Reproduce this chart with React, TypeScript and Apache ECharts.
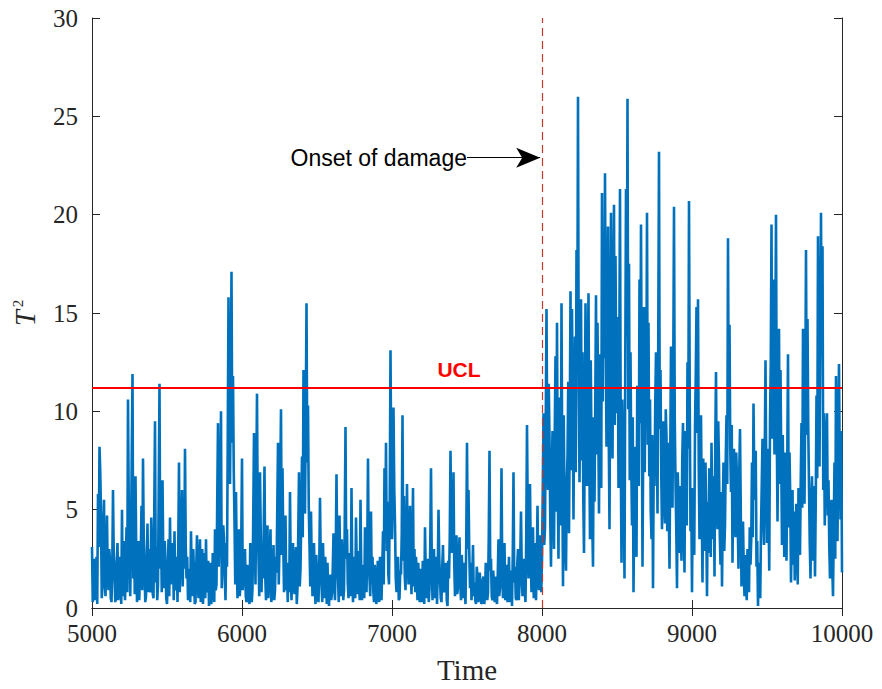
import React, { useEffect, useRef } from "react";
import * as echarts from "echarts";

// T² monitoring statistic, sampled every 5 time units from 5000 to 10000.
// "On" arrays hold the samples at t = 5000, 5010, ...; "Mid" arrays hold
// the samples that fall in between, at t = 5005, 5015, ...
const T_START = 5000;
const T_STEP = 5;

const t2On5000 = [
  3.1, 1.2, 0.4, 2.6, 5.8, 8.2, 4.9, 1.1, 5.5, 0.6,
  4.7, 0.9, 2.4, 0.3, 6.0, 1.8, 0.5, 3.3, 0.8, 1.5,
  5.0, 2.2, 0.4, 4.1, 10.6, 2.8, 3.5, 11.9, 4.0, 6.7,
  0.3, 3.4, 1.8, 5.2, 7.6, 2.1, 0.6, 4.3, 3.0, 0.8,
  2.9, 0.5, 9.5, 3.1, 1.2, 11.4, 4.2, 6.5, 1.0, 2.3,
  0.2, 3.5, 4.6, 1.9, 2.8, 3.9, 1.1, 0.3, 7.4, 2.5,
  6.0, 4.2, 8.1, 1.5, 0.4, 2.0, 3.9, 0.6, 1.8, 0.3,
  3.7, 0.5, 3.5, 1.4, 0.2, 2.8, 3.5, 0.9, 0.1, 2.3,
  0.7, 1.9, 4.0, 1.2, 9.4, 3.8, 10.0, 2.6, 3.5, 0.4,
  2.1, 15.8, 6.3, 17.1, 11.8, 4.4, 5.9, 0.5, 4.0, 1.3,
];
const t2Mid5000 = [
  0.3, 2.5, 1.6, 0.2, 3.1, 6.9, 0.5, 3.8, 1.4, 2.2,
  1.6, 3.0, 0.5, 1.9, 2.7, 0.3, 2.4, 0.4, 2.6, 0.2,
  0.6, 3.4, 1.9, 0.8, 5.2, 0.6, 7.8, 1.5, 0.7, 2.9,
  1.7, 0.4, 2.8, 0.9, 3.6, 0.3, 2.5, 0.8, 1.2, 4.6,
  0.7, 4.8, 1.3, 0.4, 6.2, 2.0, 0.8, 2.7, 3.4, 0.5,
  1.8, 0.6, 1.2, 3.3, 0.4, 0.9, 2.6, 3.1, 0.8, 4.0,
  1.1, 2.0, 3.2, 2.6, 1.4, 0.3, 1.5, 3.0, 0.2, 2.1,
  1.5, 2.2, 0.3, 3.0, 1.6, 0.5, 0.8, 2.4, 1.3, 0.2,
  2.8, 0.3, 0.9, 5.6, 2.1, 6.4, 1.0, 4.2, 1.6, 3.3,
  8.7, 9.6, 11.2, 8.4, 7.0, 1.2, 2.4, 2.9, 0.6, 3.4,
];

const t2On6000 = [
  7.6, 2.8, 3.0, 0.3, 1.6, 0.2, 2.5, 1.0, 8.9, 1.2,
  10.9, 2.5, 6.9, 0.8, 1.5, 7.2, 0.4, 4.2, 1.2, 4.0,
  0.6, 3.2, 0.9, 1.8, 8.4, 3.3, 10.1, 7.1, 0.8, 4.7,
  1.9, 2.3, 5.9, 0.4, 3.3, 0.7, 3.1, 1.0, 6.9, 2.0,
  7.7, 12.1, 4.8, 15.5, 10.3, 3.2, 4.9, 0.6, 3.3, 0.2,
  1.8, 0.3, 5.6, 1.2, 3.3, 0.5, 1.4, 2.3, 0.1, 1.7,
  0.8, 3.8, 0.4, 6.8, 1.5, 4.7, 0.6, 2.2, 0.9, 9.2,
  4.0, 0.5, 1.9, 6.1, 0.3, 2.6, 4.6, 0.7, 1.2, 5.5,
  0.4, 2.2, 4.1, 0.8, 7.6, 1.5, 4.9, 2.6, 0.3, 1.7,
  0.6, 1.5, 2.6, 0.4, 3.9, 7.1, 8.4, 5.4, 1.2, 13.1,
];
const t2Mid6000 = [
  0.9, 1.1, 0.6, 2.2, 0.4, 3.3, 0.3, 4.7, 3.6, 6.2,
  4.4, 0.6, 3.8, 2.9, 4.1, 1.6, 2.3, 0.5, 2.8, 0.3,
  1.9, 0.4, 2.6, 5.0, 1.2, 6.5, 2.7, 3.4, 2.5, 0.9,
  0.3, 0.8, 1.7, 2.0, 1.5, 2.4, 0.2, 3.8, 1.1, 4.5,
  3.6, 6.5, 9.8, 7.4, 5.2, 1.1, 2.2, 1.9, 1.0, 2.7,
  0.5, 2.1, 2.4, 0.3, 1.5, 2.6, 0.2, 0.7, 1.2, 0.4,
  2.0, 1.1, 2.9, 2.4, 0.3, 2.1, 3.5, 0.4, 4.3, 2.5,
  1.3, 2.8, 0.6, 1.8, 1.4, 0.5, 2.0, 2.9, 0.4, 1.9,
  1.6, 0.5, 1.9, 3.0, 2.4, 0.6, 1.2, 0.9, 2.2, 0.2,
  2.4, 0.3, 1.1, 2.0, 1.2, 3.5, 2.9, 1.8, 5.6, 6.8,
];

const t2On7000 = [
  3.5, 10.2, 4.3, 0.8, 2.6, 0.5, 1.7, 9.8, 5.7, 0.9,
  6.3, 1.2, 5.2, 0.7, 6.1, 3.0, 2.6, 0.4, 1.3, 2.0,
  0.3, 1.6, 4.1, 0.5, 2.5, 1.0, 7.1, 0.4, 3.0, 1.1,
  0.2, 5.0, 1.4, 0.3, 3.2, 0.8, 2.3, 0.1, 1.5, 8.0,
  2.8, 6.9, 0.6, 3.7, 1.1, 3.6, 0.4, 1.8, 2.3, 0.2,
  8.4, 6.0, 1.0, 0.4, 3.2, 1.3, 0.2, 1.6, 0.5, 1.2,
  0.3, 1.6, 0.6, 1.9, 0.8, 8.0, 2.5, 0.4, 1.1, 1.6,
  0.2, 3.5, 1.0, 7.1, 0.5, 3.3, 1.2, 0.3, 2.6, 0.9,
  0.1, 6.9, 2.1, 0.4, 3.0, 1.1, 4.9, 0.6, 2.5, 0.3,
  9.3, 1.5, 6.3, 0.8, 4.1, 1.8, 0.4, 5.2, 0.9, 3.7,
];
const t2Mid7000 = [
  5.9, 6.1, 1.5, 2.2, 0.4, 1.9, 3.8, 2.4, 1.6, 3.1,
  2.7, 3.3, 1.8, 2.9, 1.1, 0.8, 1.5, 2.3, 0.3, 0.6,
  2.4, 0.2, 1.7, 1.9, 0.3, 3.2, 2.5, 1.6, 0.5, 2.6,
  1.8, 2.6, 0.5, 2.1, 0.9, 1.7, 0.4, 2.4, 3.6, 3.9,
  4.1, 2.2, 2.5, 0.7, 2.4, 1.2, 2.7, 0.5, 0.9, 3.4,
  3.0, 2.9, 2.3, 1.5, 0.6, 0.4, 2.1, 0.3, 1.8, 0.2,
  1.4, 0.2, 2.3, 0.4, 3.6, 1.9, 0.6, 1.9, 0.3, 0.5,
  1.7, 0.6, 2.8, 1.8, 1.3, 0.4, 2.2, 1.4, 0.3, 1.9,
  2.6, 1.3, 0.5, 2.2, 0.4, 2.5, 1.9, 1.5, 0.8, 3.7,
  4.6, 3.1, 2.4, 2.6, 0.5, 3.3, 2.2, 1.7, 2.8, 0.8,
];

const t2On8000 = [
  2.5, 9.9, 4.1, 15.2, 6.0, 8.6, 2.1, 9.0, 3.0, 12.8,
  14.5, 2.5, 8.0, 15.5, 1.1, 5.2, 1.9, 7.7, 3.8, 16.1,
  15.2, 4.5, 13.8, 18.2, 26.0, 6.4, 15.7, 13.0, 2.8, 15.5,
  6.2, 16.0, 3.5, 8.1, 2.1, 5.4, 15.9, 14.5, 4.8, 9.1,
  21.1, 18.4, 22.1, 8.2, 19.4, 4.0, 20.1, 7.6, 20.5, 17.9,
  9.9, 6.1, 21.3, 2.3, 8.5, 1.5, 21.3, 25.9, 17.5, 13.0,
  4.2, 0.8, 8.2, 2.6, 9.4, 16.7, 19.5, 2.1, 15.3, 12.6,
  20.1, 14.5, 10.6, 3.5, 1.0, 6.2, 13.0, 4.8, 23.2, 12.1,
  4.0, 9.5, 4.3, 8.7, 8.4, 2.0, 13.3, 5.1, 20.4, 6.4,
  1.0, 5.3, 6.2, 2.4, 9.4, 1.8, 7.0, 12.5, 20.7, 3.9,
];
const t2Mid8000 = [
  5.8, 3.2, 9.4, 8.1, 11.4, 4.5, 6.7, 5.2, 8.9, 4.9,
  6.3, 10.7, 4.2, 7.1, 9.8, 3.0, 6.4, 11.5, 9.2, 7.0,
  9.6, 11.2, 6.9, 12.3, 11.0, 10.3, 7.5, 5.8, 8.7, 10.9,
  11.8, 8.4, 12.6, 4.3, 9.7, 10.2, 7.8, 9.5, 12.9, 6.1,
  10.5, 12.7, 13.4, 14.1, 8.8, 13.6, 11.9, 15.2, 9.3, 11.6,
  14.8, 12.4, 7.9, 10.6, 5.7, 12.2, 13.8, 10.1, 6.5, 7.4,
  9.7, 5.1, 4.6, 11.3, 6.2, 9.4, 10.8, 8.6, 6.9, 9.9,
  8.3, 6.7, 4.9, 8.8, 7.5, 10.4, 9.6, 13.7, 9.1, 6.8,
  7.2, 5.6, 10.1, 3.9, 5.0, 7.8, 8.5, 11.9, 9.6, 4.1,
  6.9, 2.8, 4.3, 7.6, 4.6, 9.0, 4.2, 8.1, 10.5, 5.7,
];

const t2On9000 = [
  0.8, 4.6, 9.2, 15.3, 15.7, 3.5, 9.8, 1.3, 5.0, 7.4,
  0.6, 2.8, 5.5, 8.4, 3.5, 1.6, 12.0, 4.0, 7.3, 2.2,
  1.1, 7.4, 4.2, 9.8, 18.8, 14.4, 5.9, 2.3, 8.1, 3.6,
  6.5, 2.0, 9.1, 1.1, 4.4, 0.6, 1.1, 3.0, 0.8, 2.2,
  7.4, 10.4, 5.5, 2.1, 0.1, 1.6, 4.0, 8.6, 3.2, 12.6,
  3.3, 5.2, 9.5, 19.5, 16.7, 7.8, 20.0, 4.4, 14.2, 12.1,
  3.2, 5.8, 7.9, 2.4, 12.9, 7.9, 1.3, 6.0, 4.9, 2.8,
  3.7, 6.1, 2.7, 9.4, 14.2, 5.3, 18.2, 14.7, 6.2, 1.5,
  6.7, 3.5, 1.6, 10.8, 18.9, 7.2, 20.1, 18.4, 9.9, 6.5,
  9.9, 6.5, 1.5, 5.5, 0.6, 7.4, 11.8, 3.4, 12.4, 4.5,
];
const t2Mid9000 = [
  6.1, 2.7, 11.8, 8.9, 7.2, 6.8, 4.9, 7.6, 2.9, 4.3,
  5.4, 7.1, 2.6, 4.9, 6.7, 8.3, 6.1, 9.5, 3.8, 5.9,
  4.8, 2.9, 7.6, 6.3, 9.7, 8.2, 9.3, 6.4, 4.7, 7.9,
  4.3, 6.9, 5.1, 3.6, 2.0, 2.7, 0.4, 1.6, 4.1, 3.5,
  3.6, 6.8, 8.0, 3.4, 2.3, 0.5, 6.3, 4.5, 7.8, 6.9,
  8.1, 1.9, 12.4, 8.6, 11.3, 13.2, 9.1, 8.7, 6.3, 7.5,
  8.8, 2.6, 5.0, 7.4, 4.1, 5.6, 3.9, 2.2, 1.4, 5.3,
  1.2, 3.9, 6.5, 5.1, 8.9, 10.6, 8.8, 9.2, 3.3, 5.2,
  2.4, 6.2, 5.4, 6.6, 11.7, 13.5, 12.9, 6.0, 4.2, 8.8,
  4.7, 3.2, 4.8, 2.1, 3.9, 2.5, 6.9, 8.6, 7.1, 9.0,
];

const t2At10000 = 1.8;

// Control limit and annotation anchors (data units)
const UCL = 11.2;
const ONSET_TIME = 8000;
const ARROW_Y = 22.9;
const ARROW_FROM = 7500;
const ARROW_TO = 7988;

const X_MIN = 5000;
const X_MAX = 10000;
const X_INTERVAL = 1000;
const Y_MIN = 0;
const Y_MAX = 30;
const Y_INTERVAL = 5;

const onSamples = [...t2On5000, ...t2On6000, ...t2On7000, ...t2On8000, ...t2On9000];
const midSamples = [...t2Mid5000, ...t2Mid6000, ...t2Mid7000, ...t2Mid8000, ...t2Mid9000];

// Merge the two sample grids into one time-ordered sequence
const t2Values: number[] = [];
onSamples.forEach((v, k) => {
  t2Values.push(v, midSamples[k]);
});
t2Values.push(t2At10000);

const AXIS_COLOR = "#262626";
const SERIF = "'Liberation Serif', 'Times New Roman', serif";
const SANS = "'Liberation Sans', Arial, Helvetica, sans-serif";

export default function App() {
  const ref = useRef<HTMLDivElement>(null);

  useEffect(() => {
    if (!ref.current) return;
    const chart = echarts.init(ref.current, undefined, { renderer: "svg" });

    const seriesData = t2Values.map((v, i) => [T_START + i * T_STEP, v]);

    const baseAxis = {
      axisLine: { show: true, lineStyle: { color: AXIS_COLOR, width: 1 } },
      axisTick: { show: true, inside: true, length: 8, lineStyle: { color: AXIS_COLOR, width: 1 } },
      splitLine: { show: false },
      minorTick: { show: false },
    };

    chart.setOption({
      animation: false,
      backgroundColor: "#ffffff",
      grid: { left: 92, top: 18, width: 750, height: 591, containLabel: false },
      xAxis: [
        {
          ...baseAxis,
          type: "value",
          min: X_MIN,
          max: X_MAX,
          interval: X_INTERVAL,
          position: "bottom",
          axisLabel: {
            fontFamily: SERIF,
            fontSize: 25,
            color: AXIS_COLOR,
            margin: 13,
            showMinLabel: true,
            showMaxLabel: true,
            formatter: (v: number) => String(v),
          },
          name: "Time",
          nameLocation: "middle",
          nameGap: 47,
          nameTextStyle: { fontFamily: SERIF, fontSize: 29, color: AXIS_COLOR },
        },
        {
          ...baseAxis,
          type: "value",
          min: X_MIN,
          max: X_MAX,
          interval: X_INTERVAL,
          position: "top",
          axisLabel: { show: false },
        },
      ],
      yAxis: [
        {
          ...baseAxis,
          type: "value",
          min: Y_MIN,
          max: Y_MAX,
          interval: Y_INTERVAL,
          position: "left",
          axisLabel: {
            fontFamily: SERIF,
            fontSize: 25,
            color: AXIS_COLOR,
            margin: 14,
            showMinLabel: true,
            showMaxLabel: true,
            formatter: (v: number) => String(v),
          },
          name: "{t|T}{s|2}",
          nameLocation: "middle",
          nameRotate: 90,
          nameGap: 53,
          nameTextStyle: {
            rich: {
              t: { fontFamily: SERIF, fontStyle: "italic", fontSize: 29, color: AXIS_COLOR },
              s: {
                fontFamily: SERIF,
                fontSize: 15,
                color: AXIS_COLOR,
                verticalAlign: "top",
                padding: [0, 0, 0, 3],
              },
            },
          },
        },
        {
          ...baseAxis,
          type: "value",
          min: Y_MIN,
          max: Y_MAX,
          interval: Y_INTERVAL,
          position: "right",
          axisLabel: { show: false },
        },
      ],
      series: [
        {
          name: "T2",
          type: "line",
          xAxisIndex: 0,
          yAxisIndex: 0,
          data: seriesData,
          showSymbol: false,
          symbol: "none",
          lineStyle: { color: "#0072BD", width: 2.6 },
          itemStyle: { color: "#0072BD" },
          z: 2,
        },
        {
          name: "onset",
          type: "line",
          data: [],
          z: 3,
          markLine: {
            silent: true,
            symbol: ["none", "none"],
            label: { show: false },
            lineStyle: { color: "#c0392b", width: 1.2, type: [8, 5] },
            data: [{ xAxis: ONSET_TIME }],
          },
        },
        {
          name: "ucl",
          type: "line",
          data: [],
          z: 4,
          markLine: {
            silent: true,
            symbol: ["none", "none"],
            lineStyle: { color: "#ff0000", width: 2.2, type: "solid" },
            label: {
              show: true,
              position: "insideMiddleTop",
              formatter: "UCL",
              color: "#ff0000",
              fontFamily: SANS,
              fontWeight: "bold",
              fontSize: 21,
              distance: 8,
              offset: [-8, 0],
            },
            data: [{ yAxis: UCL }],
          },
        },
        {
          name: "annotation",
          type: "line",
          data: [],
          z: 5,
          markLine: {
            silent: true,
            symbol: ["none", "arrow"],
            symbolSize: [15, 24],
            lineStyle: { color: "#000000", width: 1, type: "solid" },
            itemStyle: { color: "#000000" },
            label: { show: false },
            data: [[{ coord: [ARROW_FROM, ARROW_Y] }, { coord: [ARROW_TO, ARROW_Y] }]],
          },
          markPoint: {
            silent: true,
            symbol: "circle",
            symbolSize: 0,
            label: {
              show: true,
              position: "left",
              distance: 0,
              formatter: "Onset of damage",
              color: "#000000",
              fontFamily: SANS,
              fontSize: 23,
            },
            data: [{ coord: [ARROW_FROM, ARROW_Y] }],
          },
        },
      ],
    });

    return () => chart.dispose();
  }, []);

  return (
    <div
      ref={ref}
      style={{ position: "absolute", left: 0, top: 0, width: 882, height: 689 }}
    />
  );
}
